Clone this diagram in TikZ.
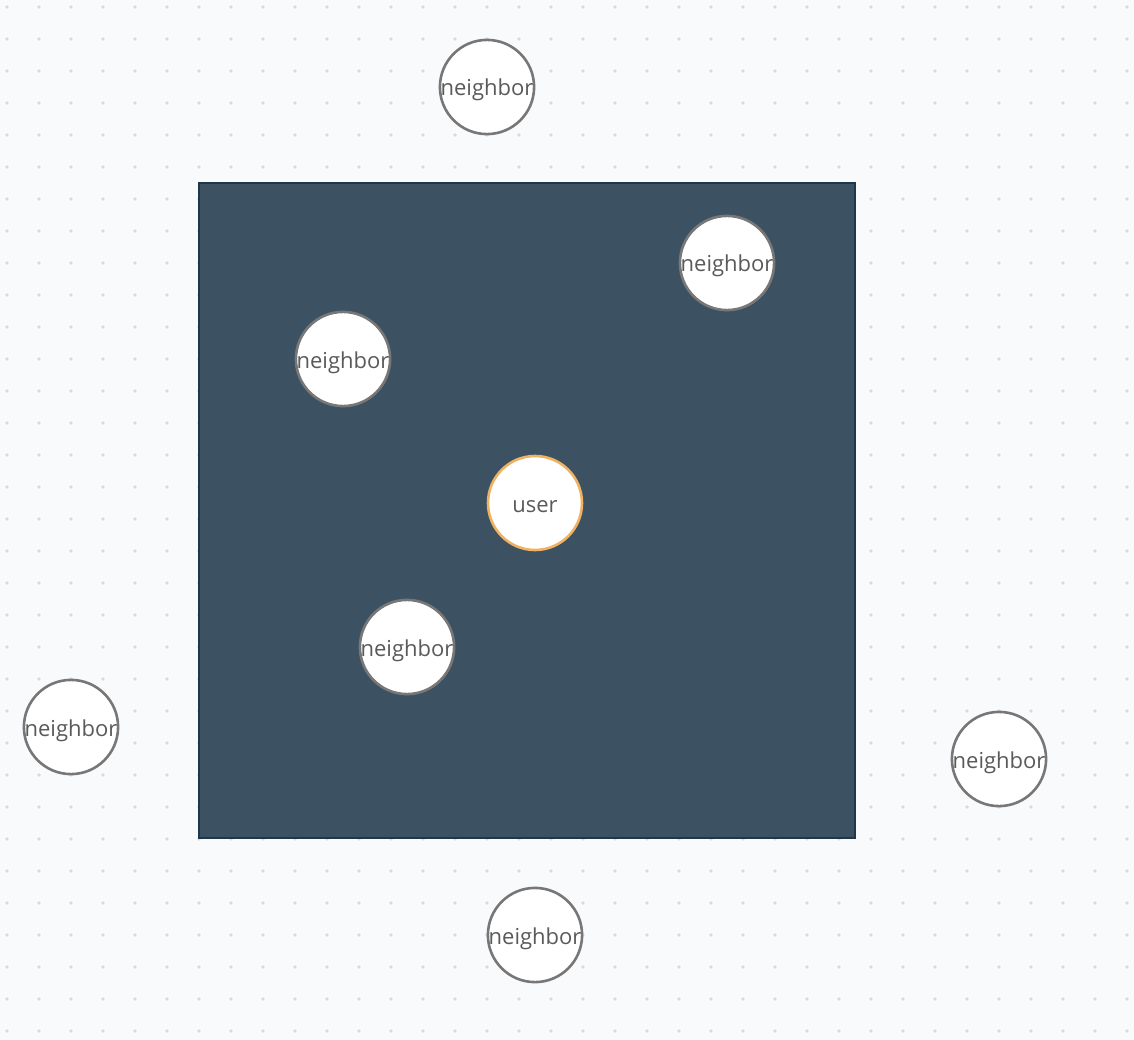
\documentclass[tikz,border=0pt]{standalone}
\usepackage{fontspec}
\setmainfont{Open Sans}
\definecolor{bgcol}{HTML}{F9FAFC}
\definecolor{dotcol}{HTML}{DADBE0}
\definecolor{areafill}{HTML}{3C5263}
\definecolor{areadraw}{HTML}{1F374B}
\definecolor{nbdraw}{HTML}{777777}
\definecolor{userdraw}{HTML}{F0B262}
\definecolor{txtcol}{HTML}{5A5A5A}
\tikzset{
  neighbor/.style={circle, draw=nbdraw, line width=2.6pt, fill=white, minimum size=94pt, inner sep=0pt,
    text=txtcol, font=\fontsize{22}{25}\selectfont, text height=18pt, text depth=0pt},
  usernode/.style={neighbor, draw=userdraw}
}
\begin{document}
\begin{tikzpicture}[x=1pt, y=-1pt]
    \fill[bgcol] (0,0) rectangle (1134,1040);
    \useasboundingbox (0,0) rectangle (1134,1040);
    \foreach \i in {0,...,35}
      \foreach \j in {0,...,32}
        \fill[dotcol] (7+32*\i, 7+32*\j) circle (1.8pt);

    \draw[fill=areafill, draw=areadraw, line width=2.8pt] (199,183) rectangle (855,838);

    \node[usernode] (user) at (535,503) {user};
    \node[neighbor] (n1) at (487,87) {neighbor};
    \node[neighbor] (n2) at (727,263) {neighbor};
    \node[neighbor] (n3) at (343,359) {neighbor};
    \node[neighbor] (n4) at (407,647) {neighbor};
    \node[neighbor] (n5) at (71,727) {neighbor};
    \node[neighbor] (n6) at (999,759) {neighbor};
    \node[neighbor] (n7) at (535,935) {neighbor};
\end{tikzpicture}
\end{document}
